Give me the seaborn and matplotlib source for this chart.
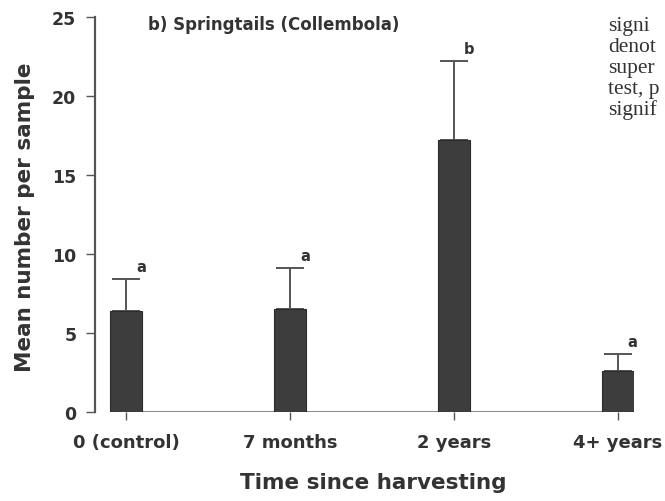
import matplotlib
matplotlib.use("Agg")
import matplotlib.pyplot as plt
import seaborn as sns
import pandas as pd

# Springtail counts by time since harvesting
categories = ["0 (control)", "7 months", "2 years", "4+ years"]
mean_counts = [6.4, 6.5, 17.2, 2.6]
std_errors = [2.0, 2.6, 5.0, 1.05]
group_letters = ["a", "a", "b", "a"]
y_ticks = [0, 5, 10, 15, 20, 25]

# fragment of the neighbouring column of body text
side_text = ["signi", "denot", "super", "test, p", "signif"]

df = pd.DataFrame({"period": categories, "mean": mean_counts, "se": std_errors})

sns.set_theme(style="white")
plt.rcParams["font.family"] = ["DejaVu Sans"]

fig = plt.figure(figsize=(6.65, 5.02), dpi=100)
ax = fig.add_axes([95 / 665, 1 - 412.7 / 502, 539 / 665, 394.4 / 502])

bar_w = 0.195
sns.barplot(data=df, x="period", y="mean", order=categories, width=bar_w,
            color="#3d3d3d", edgecolor="#2b2b2b", linewidth=0.8,
            saturation=1, errorbar=None, ax=ax, zorder=3)

# one-sided (upper) standard-error bars
xs = range(len(categories))
ax.errorbar(list(xs), mean_counts, yerr=[[0] * len(std_errors), std_errors],
            fmt="none", ecolor="#555555", elinewidth=1.4, capsize=10,
            capthick=1.4, zorder=2)

# baseline joining the bars
ax.hlines(0, -bar_w / 2, len(categories) - 1 + bar_w / 2, color="#8c8c8c",
          linewidth=2.2, zorder=1)

# significance letters
for x, m, s, lab in zip(xs, mean_counts, std_errors, group_letters):
    ax.annotate(lab, (x, m + s), xytext=(15, 13), textcoords="offset pixels",
                ha="center", va="center", fontsize=10.5, fontweight="bold",
                color="#333333")

ax.set_xlim(-0.19, 3.1)
ax.set_ylim(0, 25)
ax.set_yticks(y_ticks)
ax.set_yticklabels([str(t) for t in y_ticks])

for side in ["top", "right", "bottom"]:
    ax.spines[side].set_visible(False)
ax.spines["left"].set_color("#555555")
ax.spines["left"].set_linewidth(1.6)

ax.tick_params(axis="y", direction="out", length=6.5, width=1, color="#555555",
               pad=7, labelsize=12.5, labelcolor="#333333", left=True)
ax.tick_params(axis="x", direction="out", length=6, width=1, color="#555555",
               pad=9, labelsize=13, labelcolor="#333333", bottom=True)
for lbl in ax.get_xticklabels() + ax.get_yticklabels():
    lbl.set_fontweight("bold")

ax.set_xlabel("Time since harvesting", fontsize=15.5, fontweight="bold",
              color="#333333")
ax.set_ylabel("Mean number per sample", fontsize=15.5, fontweight="bold",
              color="#333333")
ax.xaxis.set_label_coords(0.516, -0.178)
ax.xaxis.label.set_va("center")
ax.yaxis.set_label_coords(-0.130, 0.496)
ax.yaxis.label.set_va("center")

fig.text(148 / 665, 1 - 25 / 502, "b) Springtails (Collembola)", fontsize=12,
         fontweight="bold", color="#333333", ha="left", va="center")

for i, line in enumerate(side_text):
    fig.text(608 / 665, 1 - (31 + 21 * i) / 502, line,
             family=["Liberation Serif", "DejaVu Serif"],
             fontsize=15.5, color="#333333", ha="left", va="baseline")

fig.savefig("out.png", dpi=100, facecolor="white")
